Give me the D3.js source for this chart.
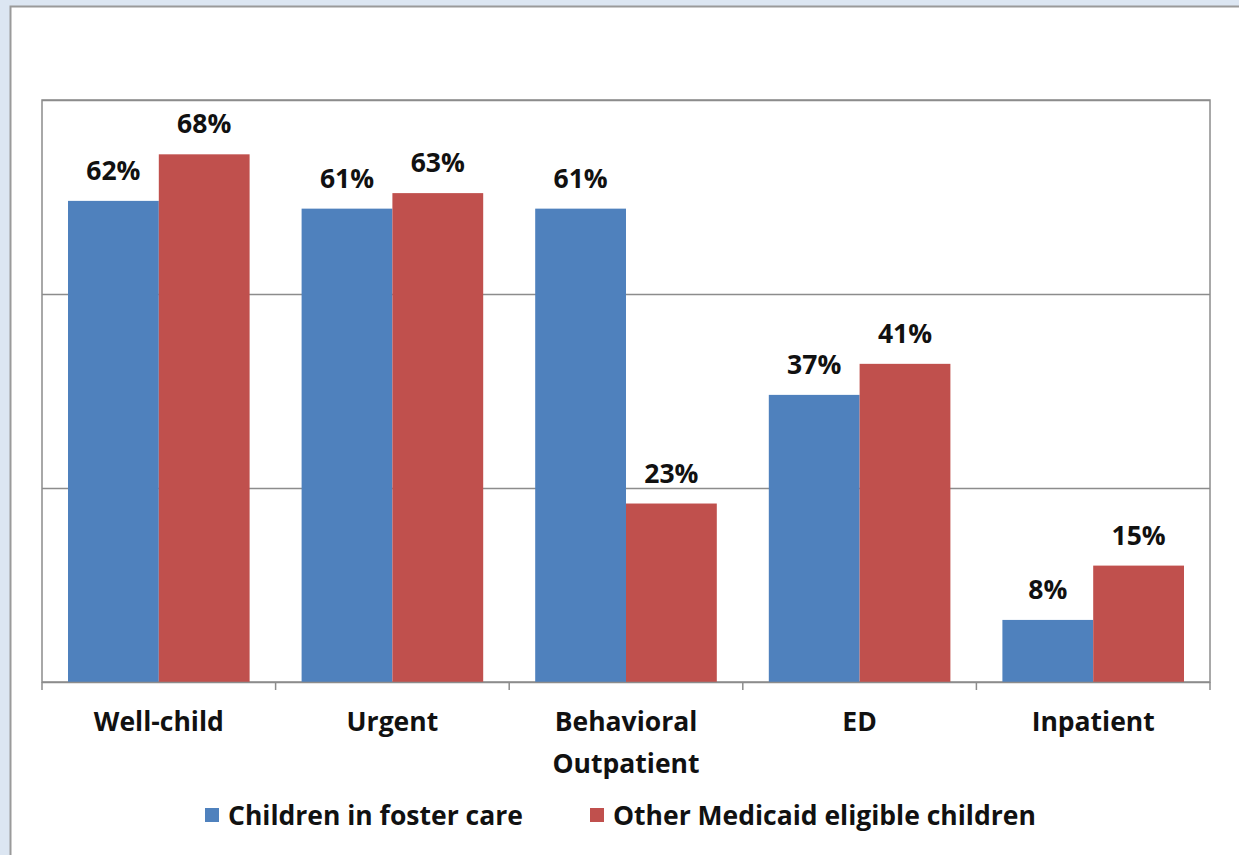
<!DOCTYPE html>
<html><head><meta charset="utf-8">
<script src="https://cdn.jsdelivr.net/npm/d3@7"></script>
<style>
html,body{margin:0;padding:0;background:#dce6f2;}
svg{display:block;}
</style></head>
<body>
<svg id="chart" width="1239" height="855"></svg>
<script>
const categories = [["Well-child"], ["Urgent"], ["Behavioral", "Outpatient"], ["ED"], ["Inpatient"]];
const seriesNames = ["Children in foster care", "Other Medicaid eligible children"];
const fosterCare = [62, 61, 61, 37, 8];
const otherMedicaid = [68, 63, 23, 41, 15];
const yTicks = [0, 25, 50, 75];
const colors = ["#4f81bd", "#c0504d"];

(function() {
const svg = d3.select("#chart");
const font = "'Open Sans', sans-serif";
const fs = 26.5;

// outer white chart area
svg.append("rect").attr("x", 10.5).attr("y", 6.5).attr("width", 1240).attr("height", 860)
  .attr("fill", "#fff").attr("stroke", "#9a9a9a").attr("stroke-width", 2);

const pLeft = 42, pRight = 1210, pTop = 100, pBottom = 682;
const x0 = d3.scaleBand().domain(d3.range(categories.length)).range([pLeft, pRight]).padding(0);
const bandW = x0.bandwidth();
const x1 = d3.scaleBand().domain([0, 1]).range([26, bandW - 26]).padding(0);
const y = d3.scaleLinear().domain([0, 75]).range([pBottom, pTop]);

// gridlines
svg.append("g").selectAll("line").data(yTicks.slice(1)).join("line")
  .attr("x1", pLeft).attr("x2", pRight)
  .attr("y1", d => Math.round(y(d)) + 0.5).attr("y2", d => Math.round(y(d)) + 0.5)
  .attr("stroke", "#8c8c8c").attr("stroke-width", 1.5);

// plot border
svg.append("rect").attr("x", pLeft).attr("y", pTop).attr("width", pRight - pLeft).attr("height", pBottom - pTop)
  .attr("fill", "none").attr("stroke", "#8c8c8c").attr("stroke-width", 1.5);

const data = categories.map((c, i) => ({i, vals: [fosterCare[i], otherMedicaid[i]]}));

const groups = svg.append("g").selectAll("g").data(data).join("g")
  .attr("transform", d => `translate(${x0(d.i)},0)`);

groups.selectAll("rect").data(d => d.vals.map((v, s) => ({v, s}))).join("rect")
  .attr("x", d => x1(d.s)).attr("width", x1.bandwidth())
  .attr("y", d => y(d.v)).attr("height", d => y(0) - y(d.v))
  .attr("fill", d => colors[d.s]);

groups.selectAll("text.val").data(d => d.vals.map((v, s) => ({v, s}))).join("text")
  .attr("class", "val")
  .attr("x", d => x1(d.s) + x1.bandwidth() / 2)
  .attr("y", d => y(d.v) - 21)
  .attr("text-anchor", "middle")
  .attr("font-family", font).attr("font-weight", "bold").attr("font-size", fs)
  .attr("fill", "#111")
  .text(d => d.v + "%");

// x axis
const xAxis = svg.append("g").attr("transform", `translate(0,${pBottom})`);
xAxis.append("line").attr("x1", pLeft).attr("x2", pRight).attr("y1", 0.5).attr("y2", 0.5)
  .attr("stroke", "#8c8c8c").attr("stroke-width", 1.5);
xAxis.selectAll("line.tick").data(d3.range(categories.length + 1)).join("line")
  .attr("class", "tick")
  .attr("x1", d => pLeft + d * bandW).attr("x2", d => pLeft + d * bandW)
  .attr("y1", 0).attr("y2", 8).attr("stroke", "#8c8c8c").attr("stroke-width", 1.5);

const labels = xAxis.selectAll("text").data(categories).join("text")
  .attr("x", (d, i) => x0(i) + bandW / 2)
  .attr("y", 49)
  .attr("text-anchor", "middle")
  .attr("font-family", font).attr("font-weight", "bold").attr("font-size", fs)
  .attr("fill", "#111");
labels.selectAll("tspan").data(d => d).join("tspan")
  .attr("x", function() { return d3.select(this.parentNode).attr("x"); })
  .attr("dy", (d, j) => j === 0 ? 0 : 42)
  .text(d => d);

// legend
const legendX = [205, 590];
const leg = svg.append("g").selectAll("g").data(seriesNames).join("g")
  .attr("transform", (d, i) => `translate(${legendX[i]},808)`);
leg.append("rect").attr("x", 0).attr("y", 0).attr("width", 14).attr("height", 14)
  .attr("fill", (d, i) => colors[i]);
leg.append("text").attr("x", 23).attr("y", 17)
  .attr("font-family", font).attr("font-weight", "bold").attr("font-size", fs)
  .attr("fill", "#111").text(d => d);
})();
</script>
</body></html>
